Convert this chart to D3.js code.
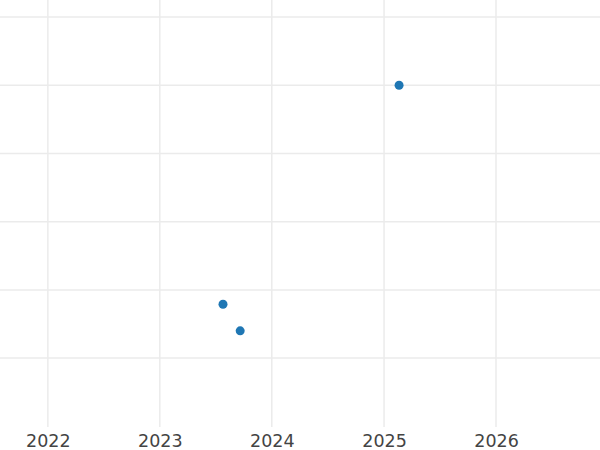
<!DOCTYPE html>
<html>
<head>
<meta charset="utf-8">
<script src="https://cdn.jsdelivr.net/npm/d3@7"></script>
<style>
  html, body { margin: 0; padding: 0; background: #fff; }
  svg { display: block; }
</style>
</head>
<body>
<div id="chart"></div>
<script>
// Data
const dates = ["2023-07-26", "2023-09-20", "2025-02-19"];
const values = [0.79, 0.40, 4.0];
const xTickYears = [2022, 2023, 2024, 2025, 2026];
const xTickLabels = ["2022", "2023", "2024", "2025", "2026"];
const yTicks = [0, 1, 2, 3, 4, 5];

const W = 600, H = 450;
const plot = { left: 0, right: 600, top: 0, bottom: 427 };

const parse = d3.utcParse("%Y-%m-%d");
const x = d3.scaleUtc()
  .domain([parse("2021-07-29"), parse("2026-12-06")])
  .range([plot.left, plot.right]);
const y = d3.scaleLinear()
  .domain([-1.01, 5.25])
  .range([plot.bottom, plot.top]);

const svg = d3.select("#chart").append("svg")
  .attr("width", W).attr("height", H);

const gridColor = "#ebebeb";

// horizontal grid
svg.append("g").selectAll("line").data(yTicks).join("line")
  .attr("x1", plot.left).attr("x2", plot.right)
  .attr("y1", d => y(d)).attr("y2", d => y(d))
  .attr("stroke", gridColor).attr("stroke-width", 1.5);

// vertical grid
const xTickDates = xTickYears.map(yr => new Date(Date.UTC(yr, 0, 1)));
svg.append("g").selectAll("line").data(xTickDates).join("line")
  .attr("x1", d => x(d)).attr("x2", d => x(d))
  .attr("y1", plot.top).attr("y2", plot.bottom)
  .attr("stroke", gridColor).attr("stroke-width", 1.5);

// x axis labels
const xAxis = d3.axisBottom(x)
  .tickValues(xTickDates)
  .tickFormat((d, i) => xTickLabels[i])
  .tickSize(0).tickPadding(0);
const gx = svg.append("g")
  .attr("transform", `translate(0,${plot.bottom})`)
  .call(xAxis);
gx.select(".domain").remove();
gx.selectAll("text")
  .attr("dy", null)
  .attr("y", 20)
  .attr("fill", "#444")
  .style("font-family", "DejaVu Sans, sans-serif")
  .style("font-size", "17.5px");

// points
svg.append("g").selectAll("circle")
  .data(dates.map((d, i) => ({ date: parse(d), value: values[i] })))
  .join("circle")
  .attr("cx", d => x(d.date))
  .attr("cy", d => y(d.value))
  .attr("r", 4.5)
  .attr("fill", "#1f77b4");
</script>
</body>
</html>
